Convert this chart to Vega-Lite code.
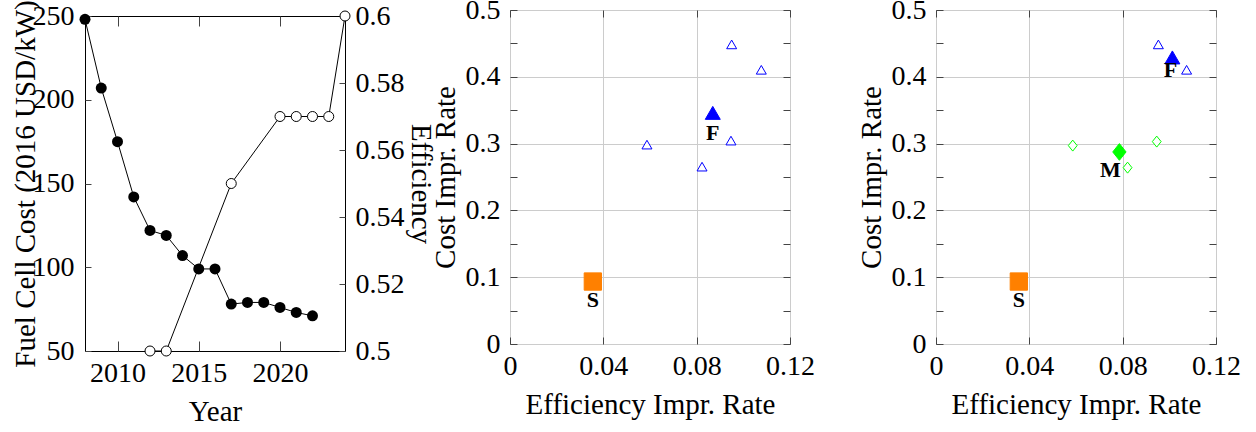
{
  "$schema": "https://vega.github.io/schema/vega-lite/v6.json",
  "padding": {"left": 10, "top": -5, "right": 5, "bottom": 0},
  "datasets": {
    "cost": [
      {"year": 2008, "cost": 248}, {"year": 2009, "cost": 207}, {"year": 2010, "cost": 175},
      {"year": 2011, "cost": 142}, {"year": 2012, "cost": 122}, {"year": 2013, "cost": 119},
      {"year": 2014, "cost": 107}, {"year": 2015, "cost": 99}, {"year": 2016, "cost": 99},
      {"year": 2017, "cost": 78}, {"year": 2018, "cost": 79}, {"year": 2019, "cost": 79},
      {"year": 2020, "cost": 76}, {"year": 2021, "cost": 73}, {"year": 2022, "cost": 71}
    ],
    "eff": [
      {"year": 2012, "eff": 0.5}, {"year": 2013, "eff": 0.5}, {"year": 2017, "eff": 0.55},
      {"year": 2020, "eff": 0.57}, {"year": 2021, "eff": 0.57}, {"year": 2022, "eff": 0.57},
      {"year": 2023, "eff": 0.57}, {"year": 2024, "eff": 0.6}
    ],
    "p2": [
      {"x": 0.095, "y": 0.4485, "kind": "Fo"},
      {"x": 0.1077, "y": 0.4105, "kind": "Fo"},
      {"x": 0.0587, "y": 0.2985, "kind": "Fo"},
      {"x": 0.0823, "y": 0.2655, "kind": "Fo"},
      {"x": 0.0947, "y": 0.3045, "kind": "Fo"},
      {"x": 0.0869, "y": 0.346, "kind": "F", "label": "F"},
      {"x": 0.0355, "y": 0.0935, "kind": "S", "label": "S"}
    ],
    "p3": [
      {"x": 0.0953, "y": 0.4485, "kind": "Fo"},
      {"x": 0.1074, "y": 0.4105, "kind": "Fo"},
      {"x": 0.1013, "y": 0.429, "kind": "F", "label": "F"},
      {"x": 0.0586, "y": 0.297, "kind": "Mo"},
      {"x": 0.0946, "y": 0.303, "kind": "Mo"},
      {"x": 0.0821, "y": 0.264, "kind": "Mo"},
      {"x": 0.0786, "y": 0.2875, "kind": "M", "label": "M"},
      {"x": 0.0355, "y": 0.0935, "kind": "S", "label": "S"}
    ]
  },
  "config": {
    "font": "Liberation Serif",
    "view": {"stroke": "black", "strokeWidth": 1},
    "axis": {
      "labelFont": "Liberation Serif", "titleFont": "Liberation Serif",
      "labelFontSize": 28, "titleFontSize": 29,
      "labelColor": "black", "titleColor": "black", "titleFontWeight": "normal",
      "tickColor": "#444", "tickWidth": 1, "domain": false, "grid": false,
      "labelOverlap": false, "labelFlush": false
    }
  },
  "spacing": -5,
  "hconcat": [
    {
      "bounds": "flush",
      "spacing": 5,
      "vconcat": [
        {
          "width": 1, "height": 1,
          "view": {"stroke": null},
          "data": {"values": []},
          "mark": {"type": "point", "opacity": 0}
        },
        {
          "width": 260, "height": 335,
          "layer": [
            {
              "data": {"name": "cost"},
              "mark": {"type": "line", "color": "black", "strokeWidth": 1, "point": {"filled": true, "color": "black", "size": 121}},
              "encoding": {
                "x": {"field": "year", "type": "quantitative", "scale": {"domain": [2008, 2024], "nice": false, "zero": false},
                  "axis": {"orient": "bottom", "values": [2010, 2015, 2020], "format": "d", "title": "Year", "tickSize": -10, "labelPadding": 18, "titlePadding": 10}},
                "y": {"field": "cost", "type": "quantitative", "scale": {"domain": [50, 250], "nice": false, "zero": false},
                  "axis": {"orient": "left", "values": [50, 100, 150, 200, 250], "title": "Fuel Cell Cost (2016 USD/kW)", "titleX": -45, "tickSize": -6, "labelPadding": 17}}
              }
            },
            {
              "data": {"name": "eff"},
              "mark": {"type": "line", "color": "black", "strokeWidth": 1, "point": {"filled": false, "fill": "white", "stroke": "black", "strokeWidth": 1, "size": 100}},
              "encoding": {
                "x": {"field": "year", "type": "quantitative", "scale": {"domain": [2008, 2024], "nice": false, "zero": false},
                  "axis": {"orient": "top", "values": [2010, 2015, 2020], "labels": false, "title": null, "tickSize": -10}},
                "y": {"field": "eff", "type": "quantitative", "scale": {"domain": [0.5, 0.6], "nice": false, "zero": false},
                  "axis": {"orient": "right", "values": [0.5, 0.52, 0.54, 0.56, 0.58, 0.6], "format": "~g", "title": "Efficiency", "tickSize": -6, "labelPadding": 16, "titlePadding": 1}}
              }
            }
          ],
          "resolve": {"scale": {"y": "independent"}, "axis": {"x": "independent", "y": "independent"}}
        }
      ]
    },
    {
      "spacing": 41,
      "hconcat": [
        {
          "width": 280, "height": 334,
          "data": {"name": "p2"},
          "layer": [
            {
              "mark": {"type": "point", "filled": true, "strokeWidth": 1, "opacity": 1},
              "encoding": {
                "x": {"field": "x", "type": "quantitative", "scale": {"domain": [0, 0.12], "nice": false},
                  "axis": {"orient": "bottom", "values": [0, 0.04, 0.08, 0.12], "labelExpr": "format(datum.value, '.2~f')", "title": "Efficiency Impr. Rate", "grid": true, "gridColor": "#cccccc", "tickSize": -7, "labelPadding": 15, "titlePadding": 10}},
                "y": {"field": "y", "type": "quantitative", "scale": {"domain": [0, 0.5], "nice": false},
                  "axis": {"orient": "left", "values": [0, 0.05, 0.1, 0.15, 0.2, 0.25, 0.3, 0.35, 0.4, 0.45, 0.5],
                    "labelExpr": "round(datum.value*100) % 10 == 0 ? format(datum.value, '.1~f') : ''",
                    "grid": true, "gridColor": "#cccccc",
                    "gridOpacity": {"condition": {"test": "round(datum.value*100) % 10 == 0", "value": 1}, "value": 0},
                    "tickSize": -7, "labelPadding": 17, "title": "Cost Impr. Rate", "titlePadding": 5}},
                "shape": {"field": "kind", "type": "nominal", "legend": null,
                  "scale": {"domain": ["Fo", "F", "S", "Mo", "M"], "range": ["triangle-up", "triangle-up", "square", "M0,-1L0.8,0L0,1L-0.8,0Z", "M0,-1L0.8,0L0,1L-0.8,0Z"]}},
                "size": {"field": "kind", "type": "nominal", "legend": null,
                  "scale": {"type": "ordinal", "domain": ["Fo", "F", "S", "Mo", "M"], "range": [100, 225, 300, 121, 278]}},
                "fill": {"field": "kind", "type": "nominal", "legend": null,
                  "scale": {"domain": ["Fo", "F", "S", "Mo", "M"], "range": ["white", "#0000ff", "#ff8000", "white", "#00ff00"]}},
                "stroke": {"field": "kind", "type": "nominal", "legend": null,
                  "scale": {"domain": ["Fo", "F", "S", "Mo", "M"], "range": ["#0000ff", "#0000ff", "#ff8000", "#00ff00", "#00ff00"]}}
              }
            },
            {
              "transform": [{"filter": "datum.label == 'F'"}],
              "mark": {"type": "text", "font": "Liberation Serif", "fontWeight": "bold", "fontSize": 22, "baseline": "middle", "dy": 20},
              "encoding": {
                "x": {"field": "x", "type": "quantitative", "axis": {"orient": "top", "values": [0, 0.04, 0.08, 0.12], "labels": false, "title": null, "tickSize": -7, "grid": false}},
                "y": {"field": "y", "type": "quantitative", "axis": {"orient": "right", "values": [0, 0.05, 0.1, 0.15, 0.2, 0.25, 0.3, 0.35, 0.4, 0.45, 0.5], "labels": false, "title": null, "tickSize": -7, "grid": false}},
                "text": {"field": "label"}
              }
            },
            {
              "transform": [{"filter": "datum.label == 'S'"}],
              "mark": {"type": "text", "font": "Liberation Serif", "fontWeight": "bold", "fontSize": 22, "baseline": "middle", "dy": 18},
              "encoding": {
                "x": {"field": "x", "type": "quantitative", "axis": null},
                "y": {"field": "y", "type": "quantitative", "axis": null},
                "text": {"field": "label"}
              }
            }
          ],
          "resolve": {"axis": {"x": "independent", "y": "independent"}}
        },
        {
          "width": 280, "height": 334,
          "data": {"name": "p3"},
          "layer": [
            {
              "mark": {"type": "point", "filled": true, "strokeWidth": 1, "opacity": 1},
              "encoding": {
                "x": {"field": "x", "type": "quantitative", "scale": {"domain": [0, 0.12], "nice": false},
                  "axis": {"orient": "bottom", "values": [0, 0.04, 0.08, 0.12], "labelExpr": "format(datum.value, '.2~f')", "title": "Efficiency Impr. Rate", "grid": true, "gridColor": "#cccccc", "tickSize": -7, "labelPadding": 15, "titlePadding": 10}},
                "y": {"field": "y", "type": "quantitative", "scale": {"domain": [0, 0.5], "nice": false},
                  "axis": {"orient": "left", "values": [0, 0.05, 0.1, 0.15, 0.2, 0.25, 0.3, 0.35, 0.4, 0.45, 0.5],
                    "labelExpr": "round(datum.value*100) % 10 == 0 ? format(datum.value, '.1~f') : ''",
                    "grid": true, "gridColor": "#cccccc",
                    "gridOpacity": {"condition": {"test": "round(datum.value*100) % 10 == 0", "value": 1}, "value": 0},
                    "tickSize": -7, "labelPadding": 17, "title": "Cost Impr. Rate", "titlePadding": 5}},
                "shape": {"field": "kind", "type": "nominal", "legend": null,
                  "scale": {"domain": ["Fo", "F", "S", "Mo", "M"], "range": ["triangle-up", "triangle-up", "square", "M0,-1L0.8,0L0,1L-0.8,0Z", "M0,-1L0.8,0L0,1L-0.8,0Z"]}},
                "size": {"field": "kind", "type": "nominal", "legend": null,
                  "scale": {"type": "ordinal", "domain": ["Fo", "F", "S", "Mo", "M"], "range": [100, 225, 300, 121, 278]}},
                "fill": {"field": "kind", "type": "nominal", "legend": null,
                  "scale": {"domain": ["Fo", "F", "S", "Mo", "M"], "range": ["white", "#0000ff", "#ff8000", "white", "#00ff00"]}},
                "stroke": {"field": "kind", "type": "nominal", "legend": null,
                  "scale": {"domain": ["Fo", "F", "S", "Mo", "M"], "range": ["#0000ff", "#0000ff", "#ff8000", "#00ff00", "#00ff00"]}}
              }
            },
            {
              "transform": [{"filter": "datum.label == 'S'"}],
              "mark": {"type": "text", "font": "Liberation Serif", "fontWeight": "bold", "fontSize": 22, "baseline": "middle", "dy": 18},
              "encoding": {
                "x": {"field": "x", "type": "quantitative", "axis": {"orient": "top", "values": [0, 0.04, 0.08, 0.12], "labels": false, "title": null, "tickSize": -7, "grid": false}},
                "y": {"field": "y", "type": "quantitative", "axis": {"orient": "right", "values": [0, 0.05, 0.1, 0.15, 0.2, 0.25, 0.3, 0.35, 0.4, 0.45, 0.5], "labels": false, "title": null, "tickSize": -7, "grid": false}},
                "text": {"field": "label"}
              }
            },
            {
              "transform": [{"filter": "datum.label == 'M'"}],
              "mark": {"type": "text", "font": "Liberation Serif", "fontWeight": "bold", "fontSize": 22, "baseline": "middle", "dx": -9, "dy": 18},
              "encoding": {
                "x": {"field": "x", "type": "quantitative", "axis": null},
                "y": {"field": "y", "type": "quantitative", "axis": null},
                "text": {"field": "label"}
              }
            },
            {
              "transform": [{"filter": "datum.label == 'F'"}],
              "mark": {"type": "text", "font": "Liberation Serif", "fontWeight": "bold", "fontSize": 22, "baseline": "middle", "dx": -2, "dy": 13},
              "encoding": {
                "x": {"field": "x", "type": "quantitative", "axis": null},
                "y": {"field": "y", "type": "quantitative", "axis": null},
                "text": {"field": "label"}
              }
            }
          ],
          "resolve": {"axis": {"x": "independent", "y": "independent"}}
        }
      ]
    }
  ]
}
